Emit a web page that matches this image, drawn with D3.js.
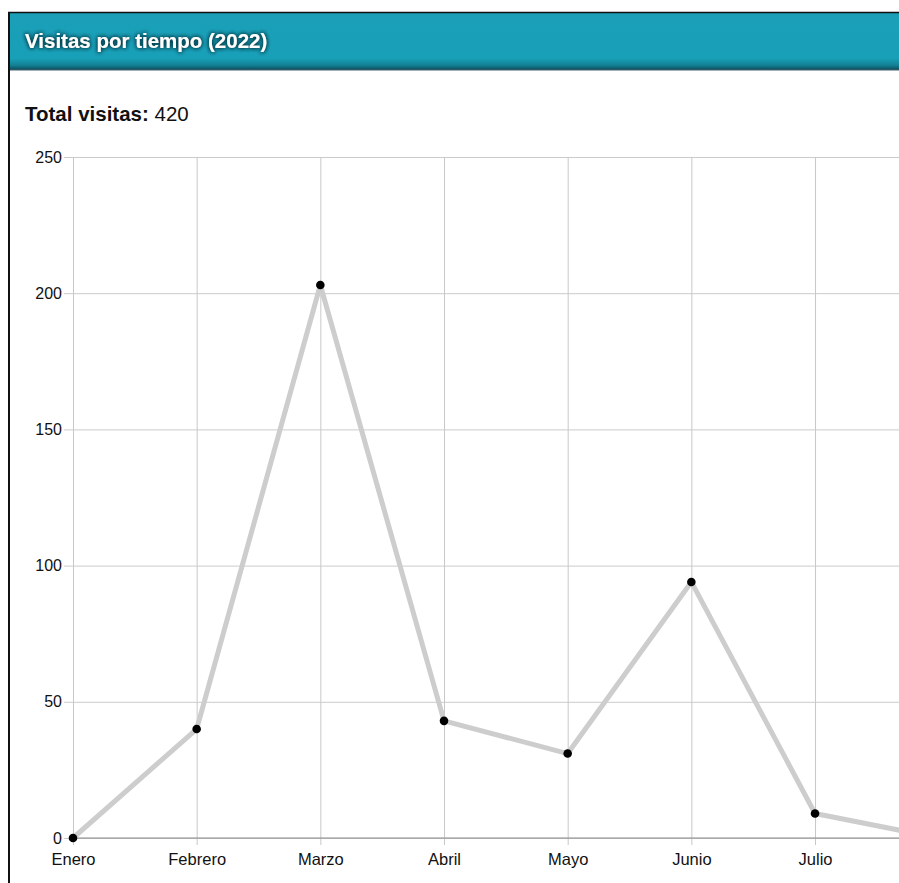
<!DOCTYPE html>
<html>
<head>
<meta charset="utf-8">
<script src="https://cdnjs.cloudflare.com/ajax/libs/d3/7.8.5/d3.min.js"></script>
<style>
  html, body { margin: 0; padding: 0; background: #fff; overflow: hidden; }
  svg { display: block; font-family: "Liberation Sans", Arial, sans-serif; }
</style>
</head>
<body>
<svg id="chart" width="899" height="883"></svg>
<script>
// Monthly visits, 2022
const months = ["Enero", "Febrero", "Marzo", "Abril", "Mayo", "Junio", "Julio", "Agosto",
                "Septiembre", "Octubre", "Noviembre", "Diciembre"];
const visits = [0, 40, 203, 43, 31, 94, 9, 0, 0, 0, 0, 0];
const yTicks = [0, 50, 100, 150, 200, 250];
const titleText = "Visitas por tiempo (2022)";
const totalLabel = "Total visitas:";
const totalValue = d3.sum(visits);

const W = 899;
const svg = d3.select("#chart");
const defs = svg.append("defs");

// header gradient: flat teal with a darker bottom edge
const grad = defs.append("linearGradient").attr("id", "hdr").attr("x1", 0).attr("y1", 0).attr("x2", 0).attr("y2", 1);
grad.append("stop").attr("offset", "0%").attr("stop-color", "#1a9fb7");
grad.append("stop").attr("offset", "80%").attr("stop-color", "#18a0b8");
grad.append("stop").attr("offset", "92%").attr("stop-color", "#137f94");
grad.append("stop").attr("offset", "100%").attr("stop-color", "#0b4a58");

// dark glow behind the header text
const glow = defs.append("filter").attr("id", "glow").attr("x", "-10%").attr("y", "-50%").attr("width", "120%").attr("height", "200%");
glow.append("feGaussianBlur").attr("in", "SourceAlpha").attr("stdDeviation", 2).attr("result", "b");
glow.append("feFlood").attr("flood-color", "#023540").attr("flood-opacity", 1);
glow.append("feComposite").attr("in2", "b").attr("operator", "in").attr("result", "s");
const merge = glow.append("feMerge");
merge.append("feMergeNode").attr("in", "s");
merge.append("feMergeNode").attr("in", "s");
merge.append("feMergeNode").attr("in", "SourceGraphic");

// card frame
svg.append("rect").attr("x", 8).attr("y", 12).attr("width", W).attr("height", 58).attr("fill", "url(#hdr)");
svg.append("line").attr("x1", 8).attr("x2", W).attr("y1", 12.5).attr("y2", 12.5).attr("stroke", "#111").attr("stroke-width", 1.5);
svg.append("line").attr("x1", 8).attr("x2", W).attr("y1", 70).attr("y2", 70).attr("stroke", "#4d6270").attr("stroke-width", 1.2);
svg.append("line").attr("x1", 9).attr("x2", 9).attr("y1", 12).attr("y2", 883).attr("stroke", "#111").attr("stroke-width", 2);

svg.append("text").attr("x", 25).attr("y", 48)
  .attr("fill", "#fff").attr("font-weight", "bold").attr("font-size", 20.5)
  .attr("filter", "url(#glow)").text(titleText);

const tot = svg.append("text").attr("x", 25).attr("y", 121).attr("font-size", 20.5).attr("fill", "#111");
tot.append("tspan").attr("font-weight", "bold").text(totalLabel + " ");
tot.append("tspan").text(totalValue);

// plot area
const x0 = 73, step = 123.67;
const x = d3.scalePoint().domain(months).range([x0, x0 + step * (months.length - 1)]);
const y = d3.scaleLinear().domain([0, 250]).range([838, 157]);
const plotRight = x0 + step * (months.length - 1);

const g = svg.append("g");

// horizontal grid + y labels
g.append("g").attr("transform", `translate(${x0},0)`)
  .call(d3.axisLeft(y).tickValues(yTicks).tickSize(9).tickPadding(3))
  .call(s => s.select(".domain").remove())
  .call(s => s.selectAll(".tick line").attr("stroke", "#cbcbcb").attr("x2", plotRight - x0))
  .call(s => s.selectAll(".tick line").attr("x1", -9))
  .call(s => s.selectAll(".tick text").attr("font-size", 16).attr("fill", "#111")
    .attr("font-family", "'Liberation Sans', Arial, sans-serif").attr("x", -11));

// vertical grid + x labels (labels only for months that fall inside the page)
g.append("g").attr("transform", `translate(0,838)`)
  .call(d3.axisBottom(x).tickSize(8).tickPadding(4))
  .call(s => s.select(".domain").remove())
  .call(s => s.selectAll(".tick line").attr("stroke", "#c8c8c8").attr("y1", -(838 - 157)).attr("y2", 7))
  .call(s => s.selectAll(".tick text").attr("font-size", 16.5).attr("fill", "#111")
    .attr("font-family", "'Liberation Sans', Arial, sans-serif").attr("dy", "0.9em"))
  .call(s => s.selectAll(".tick").filter(d => x(d) > W - 30).select("text").remove());

// zero baseline
g.append("line").attr("x1", x0).attr("x2", plotRight).attr("y1", y(0)).attr("y2", y(0))
  .attr("stroke", "#8a8a8a").attr("stroke-width", 1.2);

// series line
const data = months.map((m, i) => ({ m, v: visits[i] }));
g.append("path").datum(data)
  .attr("fill", "none").attr("stroke", "#cdcdcd").attr("stroke-width", 5)
  .attr("stroke-linejoin", "round").attr("stroke-linecap", "round")
  .attr("d", d3.line().x(d => x(d.m)).y(d => y(d.v)));

g.selectAll("circle.pt").data(data).join("circle")
  .attr("class", "pt").attr("cx", d => x(d.m)).attr("cy", d => y(d.v)).attr("r", 4.3)
  .attr("fill", "#000");
</script>
</body>
</html>
